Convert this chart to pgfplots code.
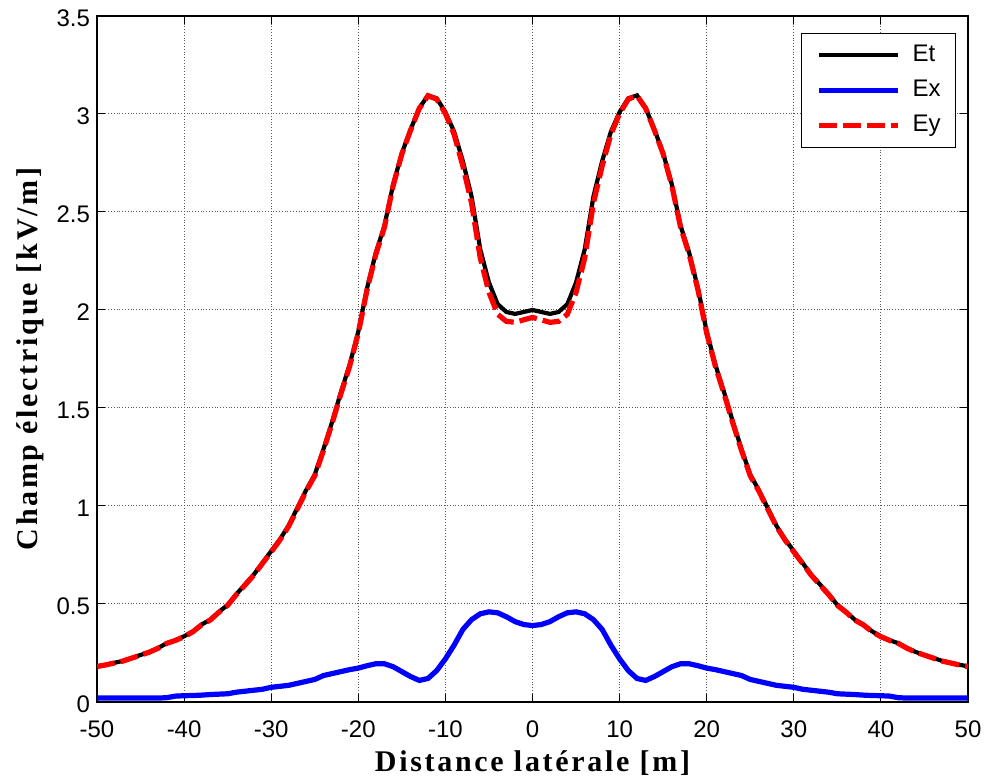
\documentclass[border=0pt]{standalone}
\usepackage{fontspec}
\setmainfont{Liberation Serif}
\newfontfamily\sansf{Liberation Sans}
\newfontfamily\labelfont{Liberation Serif}[LetterSpace=9]
\usepackage{pgfplots}
\usepackage{pgfplotstable}
\pgfplotsset{compat=1.18}

\pgfplotstableread{
x Et Ex Ey
-50 0.182 0.02 0.181
-49 0.19 0.02 0.189
-48 0.20 0.02 0.199
-47 0.21 0.02 0.209
-46 0.225 0.02 0.224
-45 0.24 0.02 0.239
-44 0.255 0.02 0.254
-43 0.275 0.02 0.274
-42 0.30 0.022 0.299
-41 0.315 0.03 0.314
-40 0.335 0.032 0.333
-39 0.36 0.033 0.358
-38 0.395 0.035 0.393
-37 0.42 0.038 0.418
-36 0.46 0.04 0.458
-35 0.495 0.042 0.493
-34 0.55 0.05 0.548
-33 0.60 0.055 0.597
-32 0.65 0.06 0.647
-31 0.71 0.065 0.707
-30 0.77 0.075 0.766
-29 0.83 0.08 0.826
-28 0.90 0.085 0.896
-27 0.99 0.095 0.985
-26 1.08 0.105 1.075
-25 1.16 0.115 1.154
-24 1.29 0.135 1.283
-23 1.43 0.145 1.423
-22 1.58 0.155 1.572
-21 1.72 0.165 1.712
-20 1.89 0.173 1.882
-19 2.11 0.185 2.102
-18 2.29 0.195 2.282
-17 2.43 0.195 2.422
-16 2.64 0.18 2.634
-15 2.80 0.155 2.796
-14 2.92 0.13 2.917
-13 3.03 0.11 3.028
-12 3.095 0.12 3.093
-11 3.08 0.16 3.076
-10 3.01 0.22 3.002
-9 2.91 0.29 2.896
-8 2.76 0.37 2.735
-7 2.58 0.42 2.546
-6 2.31 0.45 2.266
-5 2.14 0.46 2.090
-4 2.03 0.455 1.978
-3 1.99 0.435 1.942
-2 1.98 0.41 1.937
-1 1.99 0.395 1.950
0 2.00 0.39 1.962
1 1.99 0.395 1.950
2 1.98 0.41 1.937
3 1.99 0.435 1.942
4 2.03 0.455 1.978
5 2.14 0.46 2.090
6 2.31 0.45 2.266
7 2.58 0.42 2.546
8 2.76 0.37 2.735
9 2.91 0.29 2.896
10 3.01 0.22 3.002
11 3.08 0.16 3.076
12 3.095 0.12 3.093
13 3.03 0.11 3.028
14 2.92 0.13 2.917
15 2.80 0.155 2.796
16 2.64 0.18 2.634
17 2.43 0.195 2.422
18 2.29 0.195 2.282
19 2.11 0.185 2.102
20 1.89 0.173 1.882
21 1.72 0.165 1.712
22 1.58 0.155 1.572
23 1.43 0.145 1.423
24 1.29 0.135 1.283
25 1.16 0.115 1.154
26 1.08 0.105 1.075
27 0.99 0.095 0.985
28 0.90 0.085 0.896
29 0.83 0.08 0.826
30 0.77 0.075 0.766
31 0.71 0.065 0.707
32 0.65 0.06 0.647
33 0.60 0.055 0.597
34 0.55 0.05 0.548
35 0.495 0.042 0.493
36 0.46 0.04 0.458
37 0.42 0.038 0.418
38 0.395 0.035 0.393
39 0.36 0.033 0.358
40 0.335 0.032 0.333
41 0.315 0.03 0.314
42 0.30 0.022 0.299
43 0.275 0.02 0.274
44 0.255 0.02 0.254
45 0.24 0.02 0.239
46 0.225 0.02 0.224
47 0.21 0.02 0.209
48 0.20 0.02 0.199
49 0.19 0.02 0.189
50 0.182 0.02 0.181
}\datatable

\begin{document}
\begin{tikzpicture}
\useasboundingbox (-48.5pt,-39.5pt) rectangle (444.5pt,351pt);
\begin{axis}[
  scale only axis,
  width=435.5pt, height=343pt,
  xmin=-50, xmax=50, ymin=0, ymax=3.5,
  xtick={-50,-40,...,50},
  ytick={0,0.5,1,1.5,2,2.5,3,3.5},
  tick align=inside,
  xtick pos=both, ytick pos=both,
  xticklabel pos=lower, yticklabel pos=left,
  major tick length=4pt,
  every tick/.style={black, line width=0.5pt},
  axis line style={line width=0.9pt},
  grid=major,
  grid style={densely dotted, black!65, line width=0.5pt},
  /pgf/number format/assume math mode=true,
  ticklabel style={font=\sansf\fontsize{12}{14}\selectfont},
  xticklabel style={yshift=-5.8pt},
  yticklabel style={yshift=-1pt},
  xlabel={\labelfont\bfseries\fontsize{15}{18}\selectfont Distance latérale [m]},
  ylabel={\labelfont\bfseries\fontsize{15}{18}\selectfont Champ électrique [kV/m]},
  xlabel style={at={(axis description cs:0.5,-0.1016)}, anchor=base, inner sep=0pt},
  ylabel style={at={(axis description cs:-0.068,0.5)}, anchor=base, rotate=0, inner sep=0pt},
  legend cell align=left,
  legend image code/.code={\draw[#1] (0pt,0pt) -- (39.5pt,0pt);},
  legend style={at={(0.9865,0.9757)}, anchor=north east, draw=black, line width=0.5pt,
    font=\sansf\fontsize{12}{14}\selectfont,
    inner xsep=7.5pt, inner ysep=5.5pt, row sep=6.5pt, column sep=6pt,
    nodes={inner sep=0pt, text height=8.6pt, text depth=2.5pt}},
]
\addplot[black, line width=2.1pt] table[x=x, y=Et] {\datatable};
\addlegendentry{Et\hspace{-5pt}}
\addplot[blue, line width=2.6pt] table[x=x, y=Ex] {\datatable};
\addlegendentry{Ex\hspace{-5pt}}
\addplot[red, line width=2.6pt, dash pattern=on 9pt off 3pt] table[x=x, y=Ey] {\datatable};
\addlegendentry{Ey\hspace{-5pt}}
\end{axis}
\end{tikzpicture}
\end{document}
